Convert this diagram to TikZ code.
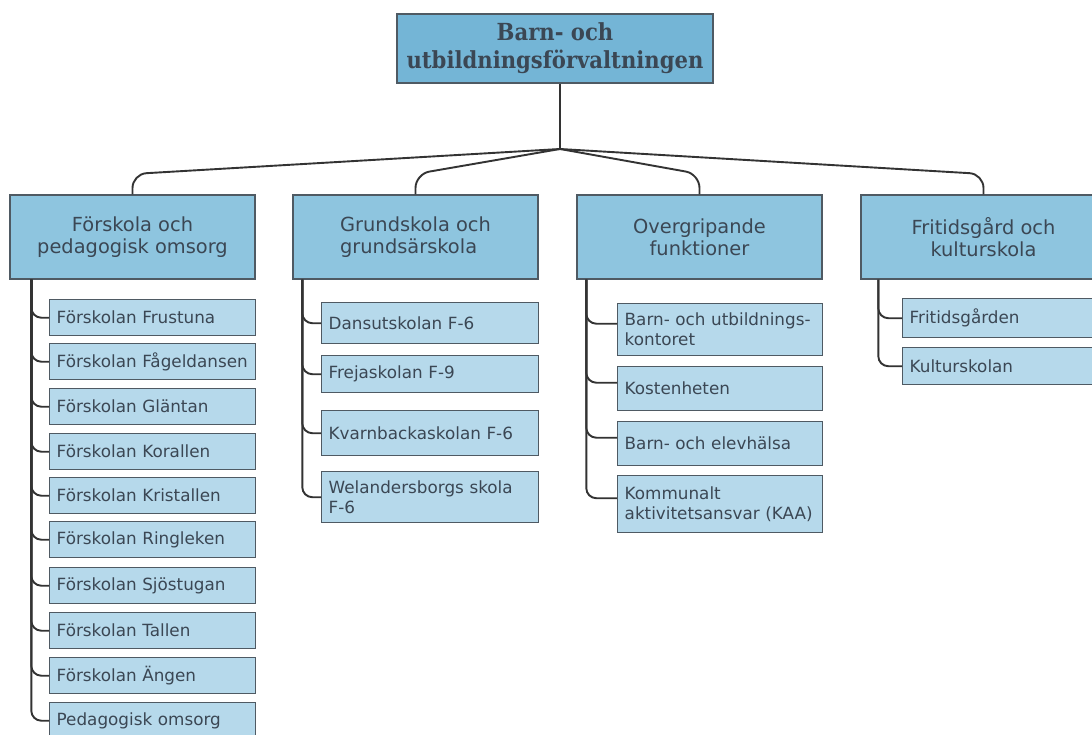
\documentclass[tikz,border=0pt]{standalone}
\usepackage{fontspec}
\setmainfont{DejaVu Sans}
\newfontfamily\titlefont[FakeStretch=0.9]{DejaVu Serif}
\definecolor{topfill}{HTML}{74B5D6}
\definecolor{lvfill}{HTML}{8EC5DF}
\definecolor{chfill}{HTML}{B6D9EB}
\definecolor{edgecol}{HTML}{4F5A63}
\definecolor{txtcol}{HTML}{3B4754}
\definecolor{conncol}{HTML}{333333}
\begin{document}
\begin{tikzpicture}[x=1pt,y=-1pt,
  topbox/.style={draw=edgecol, line width=1.6pt, fill=topfill, minimum width=316pt, minimum height=69pt, inner sep=0pt, align=center, text=txtcol, font=\titlefont\bfseries\fontsize{23.5}{28}\selectfont},
  lvbox/.style={draw=edgecol, line width=1.4pt, fill=lvfill, minimum width=245pt, minimum height=84pt, inner sep=0pt, align=center, text=txtcol, font=\fontsize{19.4}{22}\selectfont},
  chbox/.style={draw=edgecol, line width=1.4pt, fill=chfill, anchor=north west, text width=192pt, inner xsep=7pt, inner ysep=0pt, align=left, text=txtcol, font=\fontsize{16.8}{20}\selectfont},
  link/.style={draw=conncol, line width=1.9pt, rounded corners=14pt},
  branch/.style={draw=conncol, line width=1.9pt, rounded corners=10pt}]
\useasboundingbox (0,0) rectangle (1092,735);
\fill[white] (0,0) rectangle (1092,735);

% top
\node[topbox] (top) at (555,48.5) {Barn- och\\utbildningsförvaltningen};
\coordinate (J) at (560,149);
\coordinate (h) at (0,174);

% level 1
\node[lvbox] (b1) at (132.5,237) {Förskola och\\pedagogisk omsorg};
\node[lvbox, align=left] (b2) at (415.5,237) {Grundskola och\\grundsärskola};
\node[lvbox] (b3) at (699.5,237) {Overgripande\\funktioner};
\node[lvbox] (b4) at (983.5,237) {Fritidsgård och\\kulturskola};

\draw[link] ([xshift=5pt]top.south) -- (J);
\foreach \b in {b1,b2,b3,b4}
  \draw[link] (J) -- (\b.north |- h) -- (\b.north);

% column 1
\node[chbox, minimum height=36pt] (c1a) at (49,299) {Förskolan Frustuna};
\node[chbox, minimum height=36pt] (c1b) at (49,343) {Förskolan Fågeldansen};
\node[chbox, minimum height=36pt] (c1c) at (49,388) {Förskolan Gläntan};
\node[chbox, minimum height=36pt] (c1d) at (49,433) {Förskolan Korallen};
\node[chbox, minimum height=36pt] (c1e) at (49,477) {Förskolan Kristallen};
\node[chbox, minimum height=36pt] (c1f) at (49,521) {Förskolan Ringleken};
\node[chbox, minimum height=36pt] (c1g) at (49,567) {Förskolan Sjöstugan};
\node[chbox, minimum height=36pt] (c1h) at (49,612) {Förskolan Tallen};
\node[chbox, minimum height=36pt] (c1i) at (49,657) {Förskolan Ängen};
\node[chbox, minimum height=36pt] (c1j) at (49,702) {Pedagogisk omsorg};
\coordinate (t1) at ([xshift=22pt]b1.south west);
\foreach \n in {c1a,c1b,c1c,c1d,c1e,c1f,c1g,c1h,c1i,c1j}
  \draw[branch] (t1) |- (\n.west);

% column 2
\node[chbox, text width=203pt, minimum height=41pt] (c2a) at (321,302) {Dansutskolan F-6};
\node[chbox, text width=203pt, minimum height=37pt] (c2b) at (321,355) {Frejaskolan F-9};
\node[chbox, text width=203pt, minimum height=45pt] (c2c) at (321,410) {Kvarnbackaskolan F-6};
\node[chbox, text width=203pt, minimum height=51pt] (c2d) at (321,471) {Welandersborgs skola\\F-6};
\coordinate (t2) at ([xshift=10pt]b2.south west);
\foreach \n in {c2a,c2b,c2c,c2d}
  \draw[branch] (t2) |- (\n.west);

% column 3
\node[chbox, text width=191pt, minimum height=52pt] (c3a) at (617,303) {Barn- och utbildnings-\\kontoret};
\node[chbox, text width=191pt, minimum height=44pt] (c3b) at (617,366) {Kostenheten};
\node[chbox, text width=191pt, minimum height=44pt] (c3c) at (617,421) {Barn- och elevhälsa};
\node[chbox, text width=191pt, minimum height=57pt] (c3d) at (617,475) {Kommunalt\\aktivitetsansvar (KAA)};
\coordinate (t3) at ([xshift=10pt]b3.south west);
\foreach \n in {c3a,c3b,c3c,c3d}
  \draw[branch] (t3) |- ([yshift=6pt]\n.west);

% column 4
\node[chbox, text width=191pt, minimum height=39pt] (c4a) at (902,298) {Fritidsgården};
\node[chbox, text width=191pt, minimum height=37pt] (c4b) at (902,347) {Kulturskolan};
\coordinate (t4) at ([xshift=18pt]b4.south west);
\foreach \n in {c4a,c4b}
  \draw[branch] (t4) |- (\n.west);
\end{tikzpicture}
\end{document}
